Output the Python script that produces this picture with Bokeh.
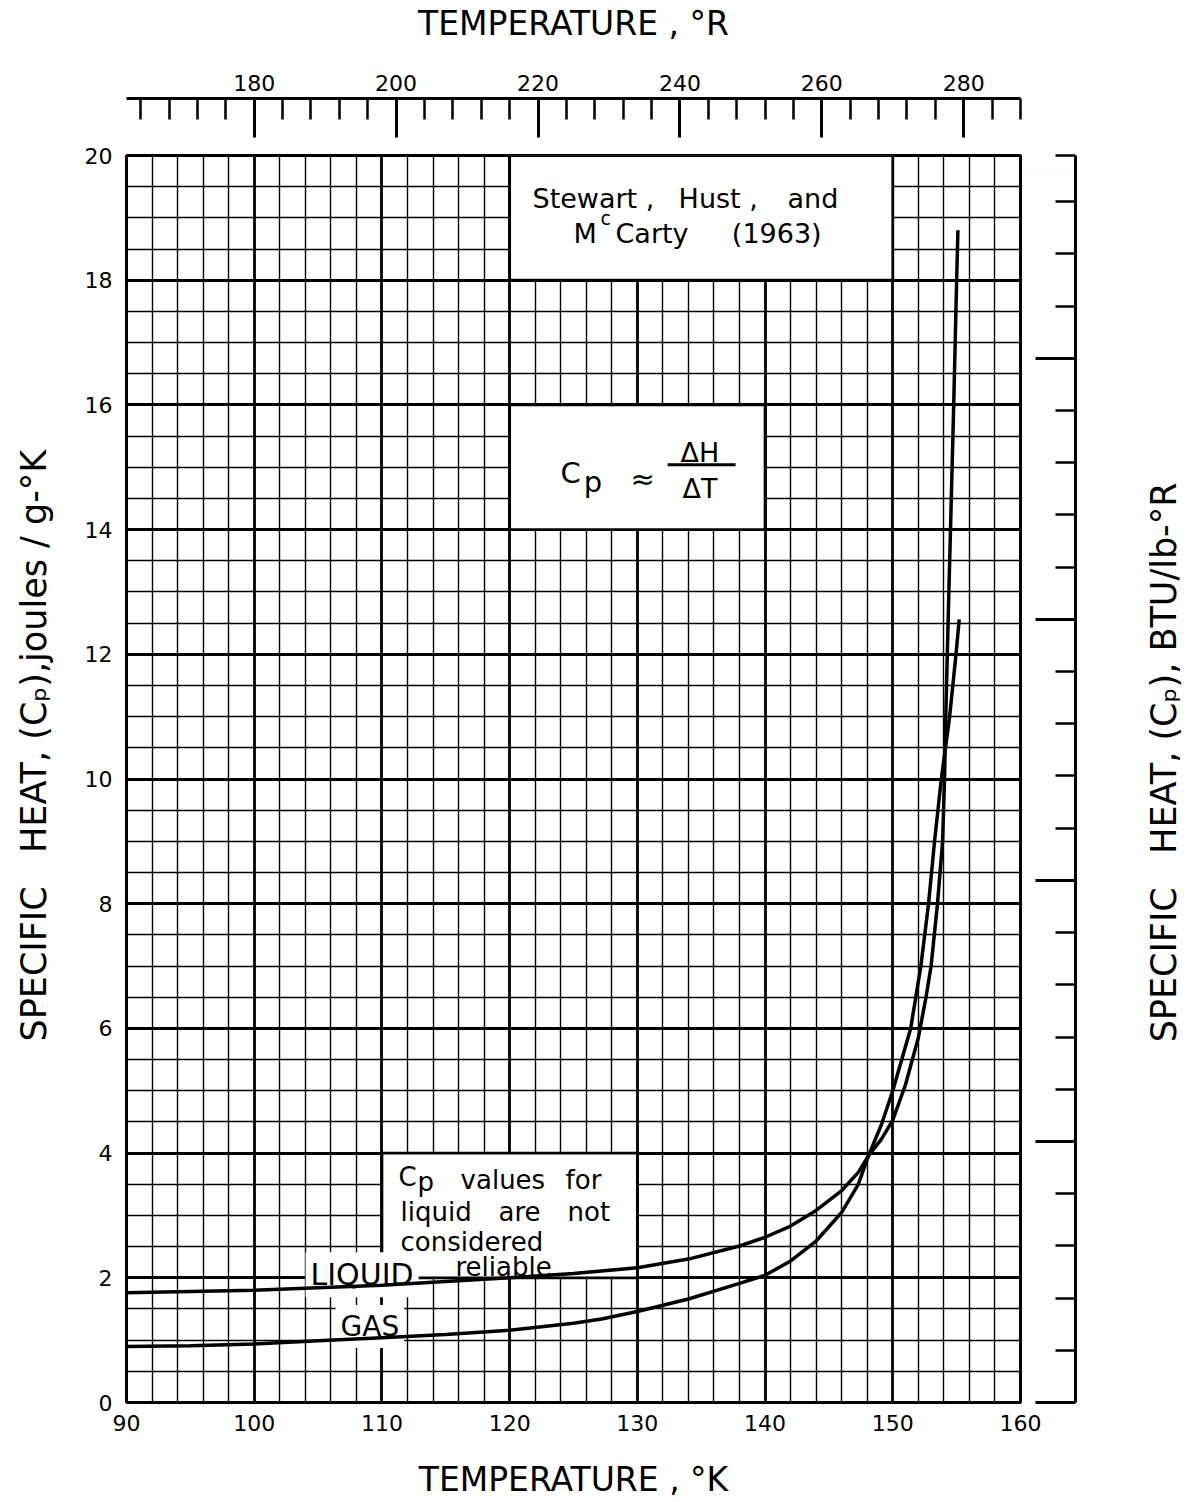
import math
from bokeh.plotting import figure
from bokeh.layouts import row
from bokeh.models import Range1d, LinearAxis, FixedTicker
from bokeh.core.properties import value
from bokeh.embed import file_html
from bokeh.resources import INLINE

FONT = "DejaVu Sans"
NB = "\u00a0"

# ---------------- data ----------------
liquid_T = [90, 95, 100, 105, 110, 115, 120, 125, 130, 134, 138, 140, 142, 144, 146,
            147.3, 148.1, 149.1, 150, 151, 152, 152.6, 153.0, 153.5, 153.9, 154.05,
            154.15, 154.27, 154.39, 154.52, 154.77, 155.0, 155.1]
liquid_cp = [1.76, 1.78, 1.80, 1.84, 1.88, 1.94, 2.00, 2.07, 2.16, 2.30, 2.51, 2.65, 2.83,
             3.08, 3.40, 3.69, 3.96, 4.22, 4.53, 5.10, 5.85, 6.5, 7.0, 8.0, 9.0, 10.0,
             11.0, 12.0, 13.0, 14.0, 16.0, 18.0, 18.8]

gas_T = [90, 95, 100, 105, 110, 115, 120, 125, 127.2, 130, 134, 138, 140, 142, 144, 146,
         147.3, 148.1, 149.1, 150, 151.4, 152.2, 152.8, 153.27, 153.8, 154.45, 154.95, 155.2]
gas_cp = [0.90, 0.91, 0.94, 0.99, 1.04, 1.09, 1.16, 1.27, 1.34, 1.46, 1.66, 1.91, 2.04,
          2.27, 2.59, 3.05, 3.5, 3.96, 4.45, 5.0, 6.0, 7.0, 8.0, 9.0, 10.0, 11.0, 12.0, 12.56]

x_ticks = [90, 100, 110, 120, 130, 140, 150, 160]
x_minor = [v for v in range(92, 160, 2) if v % 10]
y_ticks = [0, 2, 4, 6, 8, 10, 12, 14, 16, 18, 20]
y_minor = [v / 2 for v in range(1, 40) if v % 4]
r_major = [180, 200, 220, 240, 260, 280]
r_minor = [v for v in range(164, 289, 4) if v not in r_major]
btu_major = [0, 1, 2, 3, 4]
J_TO_BTU = 0.238846
btu_top = 20 * J_TO_BTU
btu_minor = [round(v * 0.2, 1) for v in range(1, 24) if v % 5] + [btu_top]

x_title = "TEMPERATURE , °K"
top_title = "TEMPERATURE , °R"
y_title = NB * 6 + "SPECIFIC" + NB * 2 + " HEAT, (Cₚ),joules / g-°K"
right_title = "SPECIFIC" + NB * 2 + " HEAT, (Cₚ), BTU/lb-°R"

H = 1502
# ---------------- main figure ----------------
p = figure(width=1077, height=H, x_range=Range1d(90, 160), y_range=Range1d(0, 20),
           output_backend="svg", toolbar_location=None,
           min_border_left=126, min_border_right=57, min_border_top=153, min_border_bottom=100,
           background_fill_color="white", border_fill_color="white")
p.extra_x_ranges = {"R": Range1d(90 * 1.8, 160 * 1.8)}
p.extra_y_ranges = {"btu": Range1d(0, btu_top)}

p.outline_line_color = "black"
p.outline_line_width = 3

p.xgrid.ticker = FixedTicker(ticks=x_ticks, minor_ticks=x_minor)
p.ygrid.ticker = FixedTicker(ticks=y_ticks, minor_ticks=y_minor)
for g in (p.xgrid[0], p.ygrid[0]):
    g.grid_line_color = "black"
    g.grid_line_width = 2.8
    g.grid_line_alpha = 1
    g.minor_grid_line_color = "black"
    g.minor_grid_line_width = 1.4

def style_title(ax, text, standoff, size):
    ax.axis_label = text
    ax.axis_label_standoff = standoff
    ax.axis_label_text_font = FONT
    ax.axis_label_text_font_size = size
    ax.axis_label_text_font_style = "normal"
    ax.axis_label_text_color = "black"

def plain_axis(ax, ticks, standoff):
    ax.ticker = FixedTicker(ticks=ticks)
    ax.axis_line_color = None
    ax.major_tick_line_color = None
    ax.minor_tick_line_color = None
    ax.major_tick_out = 0
    ax.major_tick_in = 0
    ax.minor_tick_out = 0
    ax.minor_tick_in = 0
    ax.major_label_standoff = standoff
    ax.major_label_text_font = FONT
    ax.major_label_text_font_size = "22px"
    ax.major_label_text_color = "black"

plain_axis(p.xaxis[0], x_ticks, 12)
plain_axis(p.yaxis[0], y_ticks, 14)
style_title(p.xaxis[0], x_title, 26, "33px")
style_title(p.yaxis[0], y_title, 28, "35px")

def spacer(range_kw, tick, size):
    # an axis whose only (invisible) tick reserves space between the frame and the real axis
    return LinearAxis(**range_kw, ticker=FixedTicker(ticks=[tick]), major_tick_out=size,
                      major_tick_in=0, minor_tick_out=0, minor_tick_in=0,
                      axis_line_color=None, major_tick_line_color="black",
                      major_tick_line_alpha=0.01, major_tick_line_width=1,
                      minor_tick_line_color=None, major_label_text_font_size="1px",
                      major_label_text_color=None, major_label_standoff=0)

# top (deg R) axis, separated from the frame by a spacer axis
r_axis = LinearAxis(x_range_name="R", ticker=FixedTicker(ticks=r_major, minor_ticks=r_minor),
                    major_tick_in=39, major_tick_out=0, minor_tick_in=21, minor_tick_out=0,
                    axis_line_width=3, major_tick_line_width=3, minor_tick_line_width=2.5,
                    axis_line_color="black", major_tick_line_color="black",
                    minor_tick_line_color="black", major_label_standoff=8,
                    major_label_text_font=FONT, major_label_text_font_size="22px",
                    major_label_text_color="black")
style_title(r_axis, top_title, 29, "33px")
p.add_layout(spacer({"x_range_name": "R"}, 162.5, 57), "above")
p.add_layout(r_axis, "above")

# right (BTU) axis
b_axis = LinearAxis(y_range_name="btu", ticker=FixedTicker(ticks=btu_major, minor_ticks=btu_minor),
                    major_tick_in=40, major_tick_out=0, minor_tick_in=20, minor_tick_out=0,
                    axis_line_width=3, major_tick_line_width=3, minor_tick_line_width=2.5,
                    axis_line_color="black", major_tick_line_color="black",
                    minor_tick_line_color="black", major_label_text_font_size="1px",
                    major_label_text_color=None, major_label_standoff=0)
p.add_layout(spacer({"y_range_name": "btu"}, 4.7, 55), "right")
p.add_layout(b_axis, "right")

# ---------------- white boxes ----------------
p.quad(left=[120, 120, 110], right=[150, 140, 130], bottom=[18, 14, 2], top=[20, 16, 4],
       fill_color="white", line_color="black", line_width=2.8)

def txt(fig, xs, ys, texts, size, align="left", **kw):
    fig.text(x=xs, y=ys, text=texts, text_font=value(FONT), text_font_size=value(size),
             text_align=align, text_baseline="middle", text_color="black", **kw)

# curve labels with white backing
txt(p, [104.02], [2.05], ["LIQUID"], "30px", background_fill_color="white", padding=5)
txt(p, [106.37], [1.22], ["GAS"], "28px", background_fill_color="white", padding=5)

# ---------------- curves ----------------
p.line(liquid_T, liquid_cp, line_color="black", line_width=3.5)
p.line(gas_T, gas_cp, line_color="black", line_width=3.5)

# ---------------- texts inside the plot ----------------
txt(p, [121.79, 133.23, 141.76], [19.31] * 3, ["Stewart ,", "Hust ,", "and"], "27px")
txt(p, [125.0, 128.29, 137.4], [18.75] * 3, ["M", "Carty", "(1963)"], "27px")
txt(p, [127.12], [19.0], ["c"], "19px")

txt(p, [123.99], [14.91], ["C"], "29px")
txt(p, [125.8], [14.77], ["p"], "29px")
txt(p, [130.41], [14.81], ["≈"], "29px", align="center")
txt(p, [134.9, 134.9], [15.24, 14.66], ["ΔH", "ΔT"], "27px", align="center")
p.segment(x0=[132.37], y0=[15.04], x1=[137.69], y1=[15.04], line_color="black", line_width=3)

txt(p, [111.30, 112.79, 116.16, 124.38, 111.46, 119.13, 124.53, 111.46, 115.76],
    [3.62, 3.53, 3.57, 3.57, 3.06, 3.06, 3.06, 2.58, 2.18],
    ["C", "p", "values", "for", "liquid", "are", "not", "considered", "reliable"], "26px")

# ---------------- right-hand title panel (pixel coordinates) ----------------
W2 = 1197 - 1077
q = figure(width=W2, height=H, x_range=Range1d(0, W2), y_range=Range1d(0, H),
           output_backend="svg", toolbar_location=None, x_axis_type=None, y_axis_type=None,
           min_border=0, background_fill_color="white", border_fill_color="white")
q.outline_line_color = None
q.text(x=[86], y=[H - 731], text=[right_title], angle=math.pi / 2,
       text_font=value(FONT), text_font_size=value("35px"), text_align="center",
       text_baseline="middle", text_color="black")

open("out.html", "w").write(file_html(row(p, q), INLINE))
